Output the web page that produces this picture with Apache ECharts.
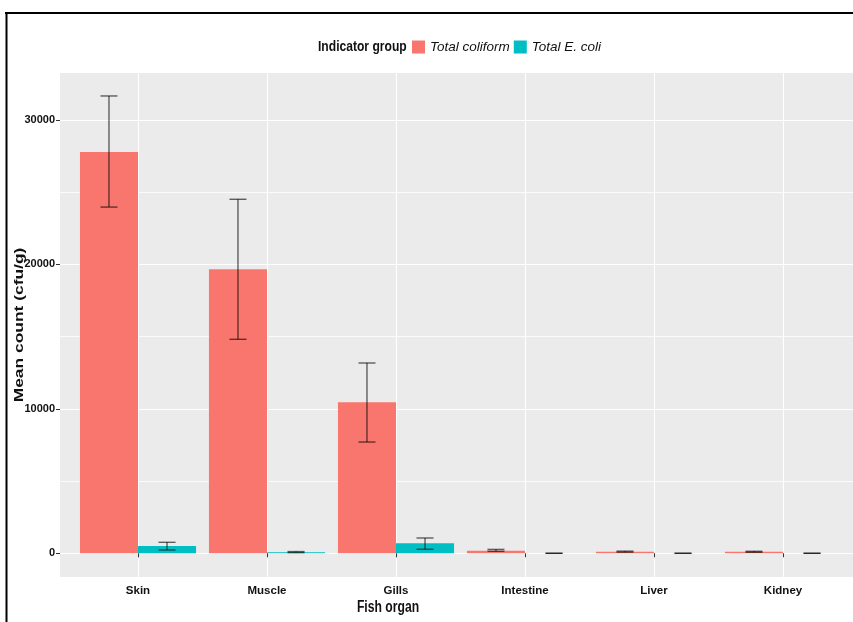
<!DOCTYPE html>
<html>
<head>
<meta charset="utf-8">
<title>Mean count by fish organ</title>
<script src="https://cdn.jsdelivr.net/npm/echarts@6/dist/echarts.min.js"></script>
<style>
  html, body { margin: 0; padding: 0; background: #fff; }
  #chart { width: 853px; height: 622px; }
</style>
</head>
<body>
<div id="chart"></div>
<script>
// data
const categories = ['Skin', 'Muscle', 'Gills', 'Intestine', 'Liver', 'Kidney'];
const coliformMean = [27770, 19650, 10450, 180, 110, 100];
const coliformLow  = [23960, 14810, 7700, 140, 80, 70];
const coliformHigh = [31650, 24500, 13170, 270, 150, 140];
const ecoliMean = [500, 80, 690, 0, 0, 0];
const ecoliLow  = [230, 50, 280, 0, 0, 0];
const ecoliHigh = [760, 120, 1060, 0, 0, 0];
const seriesNames = ['Total coliform', 'Total E. coli'];
const colors = ['#F8766D', '#00BFC4'];

// panel geometry
const PANEL_TOP = 73, PANEL_BOTTOM = 577, PANEL_LEFT = 60;
const ZERO_Y = 553.3, PX = 0.01445;   // px per unit
const yMin = -(PANEL_BOTTOM - ZERO_Y) / PX;
const yMax = (ZERO_Y - PANEL_TOP) / PX;
const FONT = "'Liberation Sans', Arial, sans-serif";

function errRows(low, high) {
  return categories.map(function (c, i) { return [i, low[i], high[i]]; });
}

function errorBar(side) {
  return function (params, api) {
    const band = api.size([1, 0])[0];
    const cx = api.coord([api.value(0), 0])[0] + side * band * 0.225;
    const top = api.coord([api.value(0), api.value(2)])[1];
    const bot = api.coord([api.value(0), api.value(1)])[1];
    const hw = band * 0.066;
    const style = { stroke: 'rgba(0,0,0,0.6)', lineWidth: 1.4 };
    return {
      type: 'group',
      children: [
        { type: 'line', shape: { x1: cx, y1: top, x2: cx, y2: bot }, style: style },
        { type: 'line', shape: { x1: cx - hw, y1: top, x2: cx + hw, y2: top }, style: style },
        { type: 'line', shape: { x1: cx - hw, y1: bot, x2: cx + hw, y2: bot }, style: style }
      ]
    };
  };
}

const chart = echarts.init(document.getElementById('chart'), null, { renderer: 'canvas' });

chart.setOption({
  animation: false,
  color: colors,
  grid: [
    // y labels and horizontal grid lines (range runs past the panel, off the canvas)
    { left: PANEL_LEFT, right: 0, top: ZERO_Y - 40000 * PX, height: 50000 * PX, outerBoundsMode: 'none' },
    // bars: category centres span Skin..Kidney
    { left: 138, width: 645, top: PANEL_TOP, height: PANEL_BOTTOM - PANEL_TOP, outerBoundsMode: 'none' }
  ],
  xAxis: [
    { gridIndex: 0, type: 'value', show: false },
    {
      gridIndex: 1, type: 'category', data: categories, boundaryGap: false,
      axisLine: { show: false },
      axisTick: { show: true, length: 4, lineStyle: { color: '#333' } },
      axisLabel: { color: '#111', fontFamily: FONT, fontSize: 11.5, fontWeight: 'bold', margin: 8 },
      splitLine: { show: true, lineStyle: { color: '#ffffff', width: 1.1 } }
    }
  ],
  yAxis: [
    {
      gridIndex: 0, type: 'value', min: -10000, max: 40000, interval: 10000,
      axisLine: { show: false },
      axisTick: { show: true, length: 4, lineStyle: { color: '#333' } },
      axisLabel: { color: '#111', fontFamily: FONT, fontSize: 11, fontWeight: 'bold', margin: 5,
                   showMinLabel: false, showMaxLabel: false,
                   formatter: function (v) { return String(v); } },
      splitLine: { show: true, lineStyle: { color: '#ffffff', width: 1.2 } },
      minorTick: { show: false, splitNumber: 2 },
      minorSplitLine: { show: true, lineStyle: { color: '#ffffff', width: 0.8 } }
    },
    { gridIndex: 1, type: 'value', min: yMin, max: yMax, show: false }
  ],
  legend: {
    data: seriesNames,
    left: 407, top: 35,
    icon: 'rect', itemWidth: 13, itemHeight: 13, itemGap: 4,
    selectedMode: false,
    textStyle: { fontFamily: FONT, fontSize: 13.5, fontStyle: 'italic', color: '#111' }
  },
  graphic: [
    { type: 'rect', z: -10, silent: true,
      shape: { x: PANEL_LEFT, y: PANEL_TOP, width: 800, height: PANEL_BOTTOM - PANEL_TOP },
      style: { fill: '#EBEBEB' } },
    { type: 'line', z: 50, silent: true, shape: { x1: 5, y1: 13, x2: 853, y2: 13 },
      style: { stroke: '#000', lineWidth: 2 } },
    { type: 'line', z: 50, silent: true, shape: { x1: 6.5, y1: 12, x2: 6.5, y2: 622 },
      style: { stroke: '#000', lineWidth: 2 } },
    { type: 'text', x: 318, y: 47, scaleX: 0.78, z: 50, silent: true,
      style: { text: 'Indicator group', fontFamily: FONT, fontSize: 15.5, fontWeight: 'bold', fill: '#111',
               verticalAlign: 'middle' } },
    { type: 'text', x: 388, y: 608, scaleX: 0.76, z: 50, silent: true,
      style: { text: 'Fish organ', fontFamily: FONT, fontSize: 16, fontWeight: 'bold', fill: '#111',
               align: 'center', verticalAlign: 'middle' } },
    { type: 'text', x: 20, y: 325, rotation: Math.PI / 2, scaleX: 1.45, z: 50, silent: true,
      style: { text: 'Mean count (cfu/g)', fontFamily: FONT,
               fontSize: 12, fontWeight: 'bold', fill: '#111', align: 'center', verticalAlign: 'middle' } }
  ],
  series: [
    { name: seriesNames[0], type: 'bar', xAxisIndex: 1, yAxisIndex: 1, data: coliformMean,
      barWidth: '45%', barGap: '0%', clip: false, itemStyle: { color: colors[0] } },
    { name: seriesNames[1], type: 'bar', xAxisIndex: 1, yAxisIndex: 1, data: ecoliMean,
      barWidth: '45%', barGap: '0%', clip: false, itemStyle: { color: colors[1] } },
    { type: 'custom', xAxisIndex: 1, yAxisIndex: 1, renderItem: errorBar(-1),
      data: errRows(coliformLow, coliformHigh), encode: { x: 0, y: [1, 2] }, z: 5, silent: true },
    { type: 'custom', xAxisIndex: 1, yAxisIndex: 1, renderItem: errorBar(1),
      data: errRows(ecoliLow, ecoliHigh), encode: { x: 0, y: [1, 2] }, z: 5, silent: true }
  ]
});
</script>
</body>
</html>
